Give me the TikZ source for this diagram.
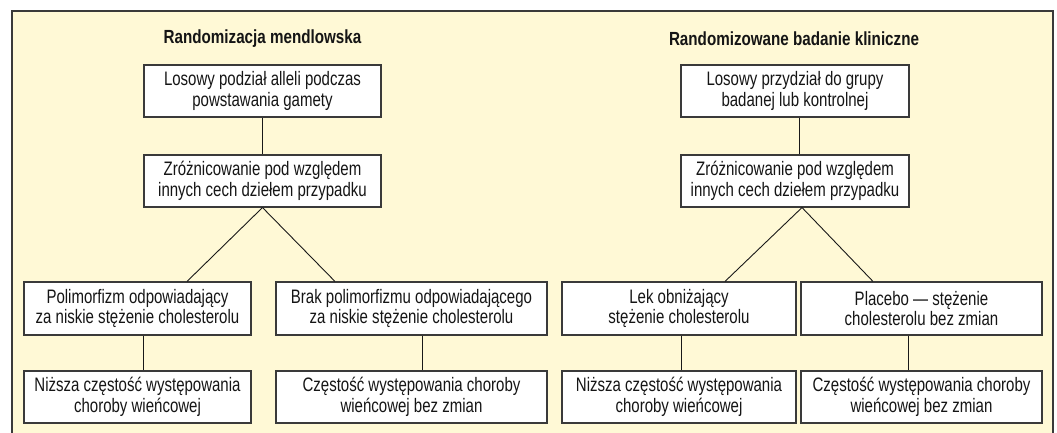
\documentclass[tikz,border=0pt]{standalone}
\usepackage{fontspec}
\setmainfont[FakeStretch=0.77]{Liberation Sans}
\newfontfamily\titlefont[FakeStretch=0.8]{Liberation Sans}
\definecolor{bgyellow}{HTML}{FFF9D6}
\definecolor{framegray}{HTML}{3A3A3A}
\definecolor{txt}{HTML}{151515}
\begin{document}
\begin{tikzpicture}[x=1pt,y=-1pt,
  every node/.style={text=txt},
  boxnode/.style={draw=framegray,line width=1.1pt,fill=white,rectangle,inner sep=0pt,
    align=center,font=\fontsize{19.5}{20.5}\selectfont},
  heading/.style={font=\titlefont\bfseries\fontsize{19}{20}\selectfont},
  link/.style={draw=black!90,line width=0.9pt}]
\useasboundingbox (0,0) rectangle (1057,433);
\fill[bgyellow] (12,11) rectangle (1053,440);
\draw[framegray,line width=1.2pt] (12,440) -- (12,11) -- (1053,11) -- (1053,440);

\node[heading] (ta) at (262.5,39) {Randomizacja mendlowska};
\node[heading] (tb) at (794,39) {Randomizowane badanie kliniczne};

\node[boxnode,minimum width=237,minimum height=52] (a1) at (262.5,91) {Losowy podział alleli podczas\\powstawania gamety};
\node[boxnode,minimum width=237,minimum height=52] (a2) at (262.5,181) {Zróżnicowanie pod względem\\innych cech dziełem przypadku};
\node[boxnode,minimum width=227,minimum height=53] (a3) at (137.5,308.5) {Polimorfizm odpowiadający\\za niskie stężenie cholesterolu};
\node[boxnode,minimum width=271,minimum height=53] (a4) at (411.5,308.5) {Brak polimorfizmu odpowiadającego\\za niskie stężenie cholesterolu};
\node[boxnode,minimum width=227,minimum height=52] (a5) at (137.5,397) {Niższa częstość występowania\\choroby wieńcowej};
\node[boxnode,minimum width=271,minimum height=52] (a6) at (411.5,397) {Częstość występowania choroby\\wieńcowej bez zmian};

\node[boxnode,minimum width=228,minimum height=52] (b1) at (795,91) {Losowy przydział do grupy\\badanej lub kontrolnej};
\node[boxnode,minimum width=228,minimum height=52] (b2) at (795,181) {Zróżnicowanie pod względem\\innych cech dziełem przypadku};
\node[boxnode,minimum width=234,minimum height=53] (b3) at (679,308.5) {Lek obniżający\\stężenie cholesterolu};
\node[boxnode,minimum width=241,minimum height=53] (b4) at (921.5,308.5) {Placebo — stężenie\\cholesterolu bez zmian};
\node[boxnode,minimum width=234,minimum height=52] (b5) at (679,397) {Niższa częstość występowania\\choroby wieńcowej};
\node[boxnode,minimum width=241,minimum height=52] (b6) at (921.5,397) {Częstość występowania choroby\\wieńcowej bez zmian};

\draw[link] (a1.south) -- (a2.north);
\draw[link] (a2.south) -- ([xshift=49.5]a3.north);
\draw[link] (a2.south) -- ([xshift=-76.5]a4.north);
\draw[link] ([xshift=5.5]a3.south) -- ([xshift=5.5]a5.north);
\draw[link] ([xshift=10.5]a4.south) -- ([xshift=10.5]a6.north);

\draw[link] ([xshift=4]b1.south) -- ([xshift=4]b2.north);
\draw[link] ([xshift=7]b2.south) -- ([xshift=46]b3.north);
\draw[link] ([xshift=7]b2.south) -- ([xshift=-48.5]b4.north);
\draw[link] ([xshift=2]b3.south) -- ([xshift=2]b5.north);
\draw[link] ([xshift=-13.5]b4.south) -- ([xshift=-13.5]b6.north);
\end{tikzpicture}
\end{document}
